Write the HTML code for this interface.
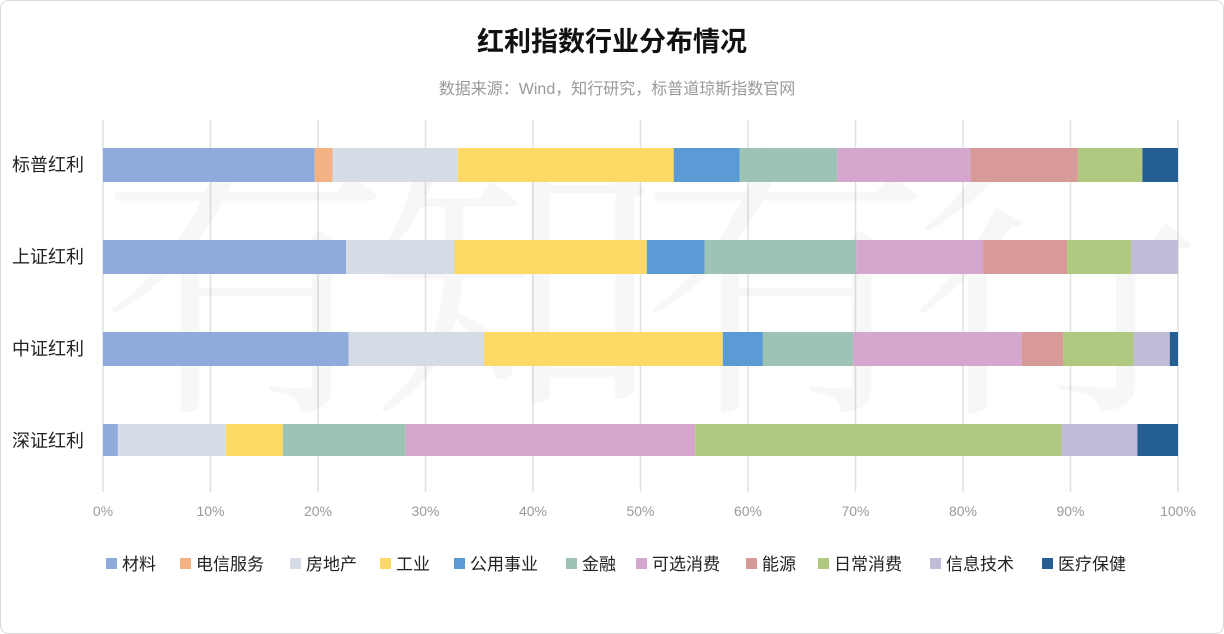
<!DOCTYPE html>
<html><head><meta charset="utf-8"><style>
html,body{margin:0;padding:0;background:#fff;}
svg{display:block;font-family:"Liberation Sans","Noto Sans CJK SC",sans-serif;}
</style></head><body>
<svg width="1224" height="634" viewBox="0 0 1224 634" xmlns="http://www.w3.org/2000/svg">
<rect x="0.5" y="0.5" width="1223" height="633" rx="8" fill="#fff" stroke="#d9d9d9"/>
<text x="612" y="51" text-anchor="middle" font-size="27" font-weight="bold" fill="#111">红利指数行业分布情况</text>
<text x="617" y="94" text-anchor="middle" font-size="16" fill="#999">数据来源：Wind，知行研究，标普道琼斯指数官网</text>
<g stroke="#e0e0e0" stroke-width="1.5">
<line x1="103" y1="120" x2="103" y2="492"/><line x1="210.5" y1="120" x2="210.5" y2="492"/><line x1="318" y1="120" x2="318" y2="492"/><line x1="425.5" y1="120" x2="425.5" y2="492"/><line x1="533" y1="120" x2="533" y2="492"/><line x1="640.5" y1="120" x2="640.5" y2="492"/><line x1="748" y1="120" x2="748" y2="492"/><line x1="855.5" y1="120" x2="855.5" y2="492"/><line x1="963" y1="120" x2="963" y2="492"/><line x1="1070.5" y1="120" x2="1070.5" y2="492"/><line x1="1178" y1="120" x2="1178" y2="492"/>
</g>
<text x="640" y="390" text-anchor="middle" font-size="290" fill="#000" fill-opacity="0.03" font-family="'Noto Serif CJK SC',serif" letter-spacing="-20">有知有行</text>
<g font-size="18" fill="#222" text-anchor="end">
<text x="84" y="171">标普红利</text><text x="84" y="263">上证红利</text><text x="84" y="355">中证红利</text><text x="84" y="447">深证红利</text>
</g>
<g font-size="14" fill="#999" text-anchor="middle">
<text x="103" y="516">0%</text><text x="210.5" y="516">10%</text><text x="318" y="516">20%</text><text x="425.5" y="516">30%</text><text x="533" y="516">40%</text><text x="640.5" y="516">50%</text><text x="748" y="516">60%</text><text x="855.5" y="516">70%</text><text x="963" y="516">80%</text><text x="1070.5" y="516">90%</text><text x="1178" y="516">100%</text>
</g>
<g font-size="17" fill="#222">
<rect x="106" y="558" width="11" height="11" fill="#8FABDC"/><text x="122" y="570">材料</text>
<rect x="180" y="558" width="11" height="11" fill="#F4B183"/><text x="196" y="570">电信服务</text>
<rect x="290" y="558" width="11" height="11" fill="#D6DCE5"/><text x="306" y="570">房地产</text>
<rect x="380" y="558" width="11" height="11" fill="#FFD966"/><text x="396" y="570">工业</text>
<rect x="454" y="558" width="11" height="11" fill="#5B9BD5"/><text x="470" y="570">公用事业</text>
<rect x="566" y="558" width="11" height="11" fill="#9DC3B4"/><text x="582" y="570">金融</text>
<rect x="636" y="558" width="11" height="11" fill="#D5A6CE"/><text x="652" y="570">可选消费</text>
<rect x="746" y="558" width="11" height="11" fill="#D89A98"/><text x="762" y="570">能源</text>
<rect x="818" y="558" width="11" height="11" fill="#AFCA80"/><text x="834" y="570">日常消费</text>
<rect x="930" y="558" width="11" height="11" fill="#BFBCD8"/><text x="946" y="570">信息技术</text>
<rect x="1042" y="558" width="11" height="11" fill="#255E91"/><text x="1058" y="570">医疗保健</text>
</g>
<g>
<rect x="103" y="148" width="211.8" height="34" fill="#8FABDC"/>
<rect x="314.8" y="148" width="17.7" height="34" fill="#F4B183"/>
<rect x="332.5" y="148" width="125.3" height="34" fill="#D6DCE5"/>
<rect x="457.8" y="148" width="215.9" height="34" fill="#FFD966"/>
<rect x="673.7" y="148" width="66.1" height="34" fill="#5B9BD5"/>
<rect x="739.8" y="148" width="97.3" height="34" fill="#9DC3B4"/>
<rect x="837.1" y="148" width="133.3" height="34" fill="#D5A6CE"/>
<rect x="970.4" y="148" width="107.5" height="34" fill="#D89A98"/>
<rect x="1077.9" y="148" width="64.5" height="34" fill="#AFCA80"/>
<rect x="1142.4" y="148" width="35.6" height="34" fill="#255E91"/>
<rect x="103" y="240" width="243" height="34" fill="#8FABDC"/>
<rect x="346" y="240" width="108.5" height="34" fill="#D6DCE5"/>
<rect x="454.5" y="240" width="192.3" height="34" fill="#FFD966"/>
<rect x="646.8" y="240" width="57.9" height="34" fill="#5B9BD5"/>
<rect x="704.7" y="240" width="151.6" height="34" fill="#9DC3B4"/>
<rect x="856.3" y="240" width="126.8" height="34" fill="#D5A6CE"/>
<rect x="983.1" y="240" width="83.9" height="34" fill="#D89A98"/>
<rect x="1067" y="240" width="64.0" height="34" fill="#AFCA80"/>
<rect x="1131" y="240" width="47" height="34" fill="#BFBCD8"/>
<rect x="103" y="332" width="245.5" height="34" fill="#8FABDC"/>
<rect x="348.5" y="332" width="135.6" height="34" fill="#D6DCE5"/>
<rect x="484.1" y="332" width="238.7" height="34" fill="#FFD966"/>
<rect x="722.8" y="332" width="40.1" height="34" fill="#5B9BD5"/>
<rect x="762.9" y="332" width="90.2" height="34" fill="#9DC3B4"/>
<rect x="853.1" y="332" width="168.5" height="34" fill="#D5A6CE"/>
<rect x="1021.6" y="332" width="41.8" height="34" fill="#D89A98"/>
<rect x="1063.4" y="332" width="70.3" height="34" fill="#AFCA80"/>
<rect x="1133.7" y="332" width="36.1" height="34" fill="#BFBCD8"/>
<rect x="1169.8" y="332" width="8.2" height="34" fill="#255E91"/>
<rect x="103" y="424" width="14.9" height="32" fill="#8FABDC"/>
<rect x="117.9" y="424" width="107.9" height="32" fill="#D6DCE5"/>
<rect x="225.8" y="424" width="57.1" height="32" fill="#FFD966"/>
<rect x="282.9" y="424" width="122.8" height="32" fill="#9DC3B4"/>
<rect x="405.7" y="424" width="289.5" height="32" fill="#D5A6CE"/>
<rect x="695.2" y="424" width="366.4" height="32" fill="#AFCA80"/>
<rect x="1061.6" y="424" width="75.8" height="32" fill="#BFBCD8"/>
<rect x="1137.4" y="424" width="40.6" height="32" fill="#255E91"/>
</g>
</svg>
</body></html>
